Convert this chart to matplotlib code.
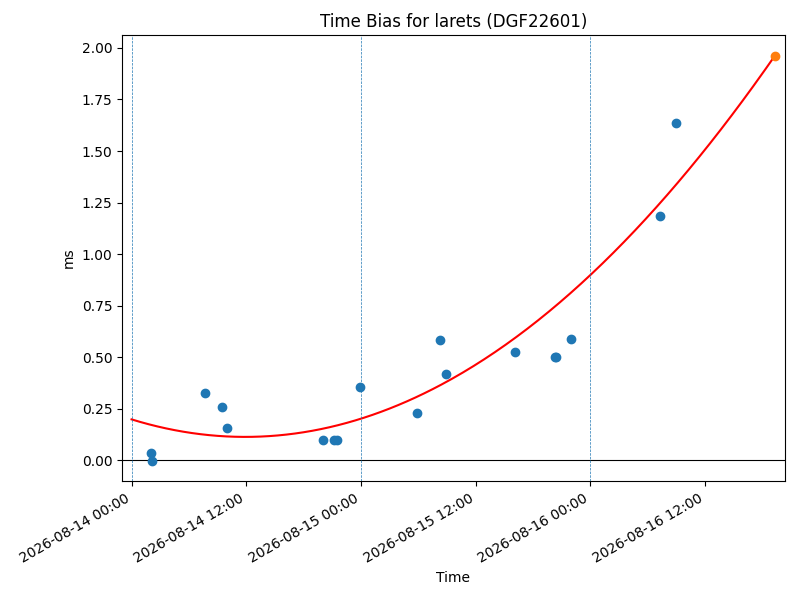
import matplotlib
matplotlib.use("Agg")
import matplotlib.pyplot as plt
import matplotlib.dates as mdates
import numpy as np
import pandas as pd

# Observations
obs_times = [
    "2026-08-14 02:01", "2026-08-14 02:09", "2026-08-14 07:42", "2026-08-14 09:25",
    "2026-08-14 09:58", "2026-08-14 20:02", "2026-08-14 21:14", "2026-08-14 21:30",
    "2026-08-14 23:54", "2026-08-15 05:52", "2026-08-15 08:17", "2026-08-15 08:57",
    "2026-08-15 16:08", "2026-08-15 20:16", "2026-08-15 20:24", "2026-08-15 21:59",
    "2026-08-16 07:17", "2026-08-16 08:58",
]
obs_ms = [
    0.034, -0.006, 0.324, 0.257,
    0.154, 0.100, 0.100, 0.100,
    0.353, 0.231, 0.581, 0.417,
    0.524, 0.503, 0.503, 0.586,
    1.183, 1.634,
]

# Prediction point
pred_time = "2026-08-16 19:17"
pred_ms = 1.961

# Quadratic fit coefficients (ms vs hours since fit start): a*t^2 + b*t + c
fit_start = "2026-08-14 00:00"
fit_end = "2026-08-16 19:17"
fit_coef = [0.000602, -0.01431, 0.198]

day_lines = ["2026-08-14 00:00", "2026-08-15 00:00", "2026-08-16 00:00"]
xlim = ["2026-08-13 23:00", "2026-08-16 20:21"]

t_obs = pd.to_datetime(obs_times)
t0 = pd.Timestamp(fit_start)
t1 = pd.Timestamp(fit_end)
fit_t = pd.date_range(t0, t1, periods=300)
hrs = (fit_t - t0).total_seconds() / 3600.0
fit_v = np.polyval(fit_coef, hrs)

fig = plt.figure(figsize=(8, 6), dpi=100)
ax = fig.add_subplot(111)
fig.subplots_adjust(left=0.1525, right=0.981, top=0.9417, bottom=0.198)

ax.scatter(t_obs, obs_ms, color="C0", zorder=3)
ax.plot(fit_t, fit_v, color="red", lw=1.5, zorder=2)
ax.scatter([pd.Timestamp(pred_time)], [pred_ms], color="C1", zorder=4)
ax.axhline(0, color="black", lw=0.8)
for d in day_lines:
    ax.axvline(pd.Timestamp(d), color="C0", lw=0.5, ls="--")

ax.set_xlim(pd.Timestamp(xlim[0]), pd.Timestamp(xlim[1]))
ax.set_ylim(-0.102, 2.063)
ax.xaxis.set_major_locator(mdates.HourLocator(byhour=[0, 12]))
ax.xaxis.set_major_formatter(mdates.DateFormatter("%Y-%m-%d %H:%M"))
for lbl in ax.get_xticklabels():
    lbl.set_rotation(30)
    lbl.set_ha("right")

ax.set_title("Time Bias for larets (DGF22601)")
ax.set_xlabel("Time")
ax.set_ylabel("ms")

fig.savefig("out.png", dpi=100)
